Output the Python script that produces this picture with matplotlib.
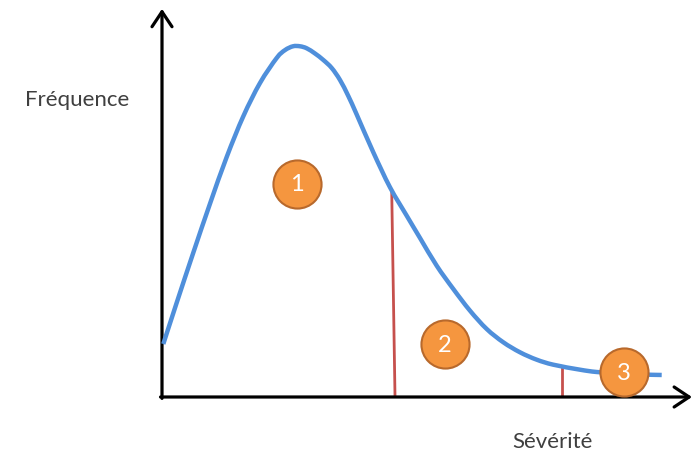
import matplotlib
matplotlib.use("Agg")
import matplotlib.pyplot as plt
from matplotlib.path import Path
from matplotlib.patches import PathPatch
import numpy as np

# Curve (severity, frequency) in arbitrary units
severity = [0.026, 0.294, 0.626, 0.960, 1.294, 1.626, 1.960, 2.294, 2.460, 2.620,
            2.760, 2.894, 3.060, 3.226, 3.394, 3.560, 3.726, 3.894, 4.226, 4.560,
            4.894, 5.160, 5.494, 5.826, 6.160, 6.494, 6.826, 7.160, 7.494, 7.826,
            8.360, 8.694, 9.160, 9.560, 9.994]
frequency = [1.514, 2.694, 4.123, 5.523, 6.857, 8.020, 8.971, 9.686, 9.911, 10.020,
             10.020, 9.963, 9.814, 9.629, 9.400, 9.057, 8.600, 8.071, 6.991, 5.991,
             5.180, 4.543, 3.751, 3.086, 2.466, 1.943, 1.563, 1.277, 1.066, 0.923,
             0.780, 0.714, 0.671, 0.643, 0.629]

# Threshold separators (severity at top, severity at bottom, height)
sep_top_x = [4.594, 7.994]
sep_bot_x = [4.660, 7.994]
sep_top_y = [5.91, 0.877]

zone_labels = ["1", "2", "3"]
zone_x = [2.69, 5.66, 9.24]
zone_y = [6.09, 1.51, 0.70]

x_label = "Sévérité"
y_label = "Fréquence"

BLUE = "#4F8FDB"
RED = "#C6504D"
ORANGE = "#F5963F"
ORANGE_EDGE = "#B8692C"
TEXT = "#3F3F3F"

fig = plt.figure(figsize=(6.97, 4.52), dpi=100)
ax = fig.add_axes([0, 0, 1, 1])
ax.set_xlim(-3.24, 10.70)
ax.set_ylim(-1.543, 11.371)
ax.axis("off")

# axes arrows
arrow = dict(arrowstyle="->,head_length=0.6,head_width=0.4", lw=2.3,
             color="black", shrinkA=0, shrinkB=0, mutation_scale=18)
ax.annotate("", xy=(0, 11.09), xytext=(0, -0.04), arrowprops=arrow)
ax.annotate("", xy=(10.60, 0), xytext=(-0.03, 0), arrowprops=arrow)

# separators
for xt, xb, yt in zip(sep_top_x, sep_bot_x, sep_top_y):
    ax.plot([xb, xt], [0.03, yt], color=RED, lw=2.0, solid_capstyle="butt", zorder=2)

# smooth curve through the read points (Catmull-Rom rendered as cubic Bezier)
P = np.column_stack([severity, frequency])
verts = [P[0]]
codes = [Path.MOVETO]
n = len(P)
for i in range(n - 1):
    p0 = P[i - 1] if i > 0 else P[i]
    p1, p2 = P[i], P[i + 1]
    p3 = P[i + 2] if i + 2 < n else P[i + 1]
    c1 = p1 + (p2 - p0) / 6.0
    c2 = p2 - (p3 - p1) / 6.0
    verts += [c1, c2, p2]
    codes += [Path.CURVE4] * 3
ax.add_patch(PathPatch(Path(verts, codes), facecolor="none", edgecolor=BLUE,
                       lw=3.2, capstyle="butt", joinstyle="round", zorder=3))

# zone markers
ax.scatter(zone_x, zone_y, s=1200, color=ORANGE, edgecolor=ORANGE_EDGE,
           linewidth=1.5, zorder=4)
for lab, x, y in zip(zone_labels, zone_x, zone_y):
    ax.text(x, y, lab, color="white", fontsize=17, family="Lato",
            ha="center", va="center", zorder=5)

ax.text(-1.70, 8.51, y_label, fontsize=16, family="Lato", color=TEXT,
        ha="center", va="center")
ax.text(7.81, -1.25, x_label, fontsize=16, family="Lato", color=TEXT,
        ha="center", va="center")

fig.savefig("out.png", dpi=100)
